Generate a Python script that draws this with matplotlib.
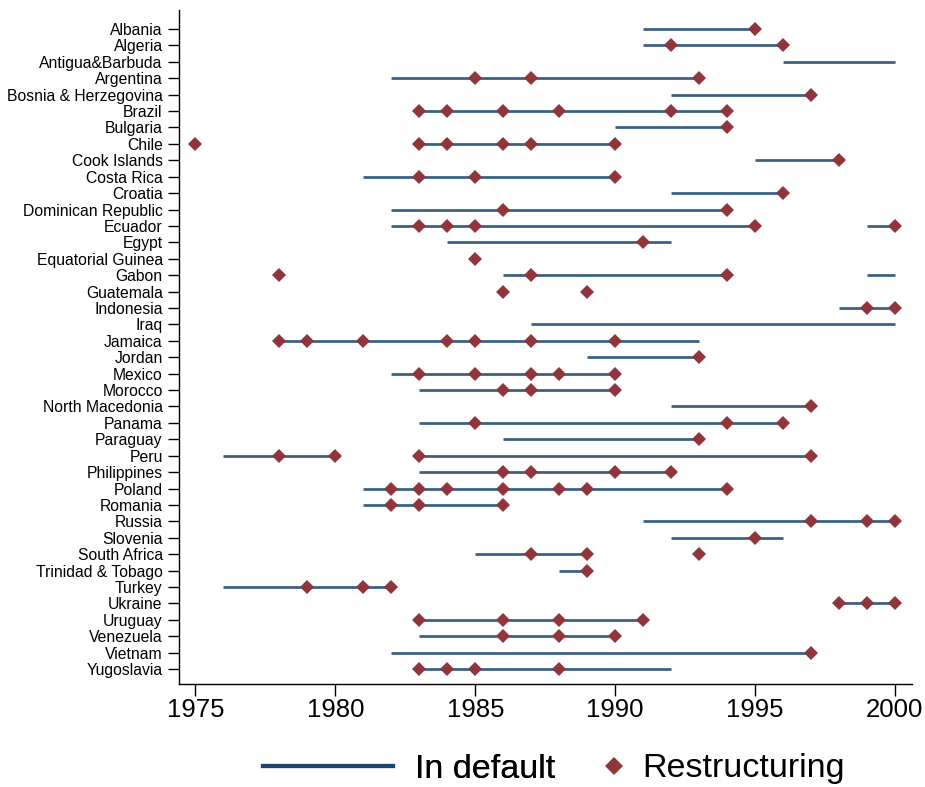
import matplotlib.pyplot as plt
from matplotlib.lines import Line2D

plt.rcParams['font.family'] = ['Liberation Sans', 'DejaVu Sans']

# countries, top to bottom
countries = ['Albania', 'Algeria', 'Antigua&Barbuda', 'Argentina', 'Bosnia & Herzegovina',
             'Brazil', 'Bulgaria', 'Chile', 'Cook Islands', 'Costa Rica', 'Croatia',
             'Dominican Republic', 'Ecuador', 'Egypt', 'Equatorial Guinea', 'Gabon',
             'Guatemala', 'Indonesia', 'Iraq', 'Jamaica', 'Jordan', 'Mexico', 'Morocco',
             'North Macedonia', 'Panama', 'Paraguay', 'Peru', 'Philippines', 'Poland',
             'Romania', 'Russia', 'Slovenia', 'South Africa', 'Trinidad & Tobago', 'Turkey',
             'Ukraine', 'Uruguay', 'Venezuela', 'Vietnam', 'Yugoslavia']

# default spells (start year, end year)
default_spells = [
    [(1991, 1995)], [(1991, 1996)], [(1996, 2000)], [(1982, 1993)], [(1992, 1997)],
    [(1983, 1994)], [(1990, 1994)], [(1983, 1990)], [(1995, 1998)], [(1981, 1990)],
    [(1992, 1996)], [(1982, 1994)], [(1982, 1995), (1999, 2000)], [(1984, 1992)], [],
    [(1986, 1994), (1999, 2000)], [], [(1998, 2000)], [(1987, 2000)], [(1978, 1993)],
    [(1989, 1993)], [(1982, 1990)], [(1983, 1990)], [(1992, 1997)], [(1983, 1996)],
    [(1986, 1993)], [(1976, 1980), (1983, 1997)], [(1983, 1992)], [(1981, 1994)],
    [(1981, 1986)], [(1991, 2000)], [(1992, 1996)], [(1985, 1989)], [(1988, 1989)],
    [(1976, 1982)], [(1998, 2000)], [(1983, 1991)], [(1983, 1990)], [(1982, 1997)],
    [(1983, 1992)],
]

# restructuring years
restructurings = [
    [1995], [1992, 1996], [], [1985, 1987, 1993], [1997],
    [1983, 1984, 1986, 1988, 1992, 1994], [1994], [1975, 1983, 1984, 1986, 1987, 1990],
    [1998], [1983, 1985, 1990], [1996], [1986, 1994], [1983, 1984, 1985, 1995, 2000],
    [1991], [1985], [1978, 1987, 1994], [1986, 1989], [1999, 2000], [],
    [1978, 1979, 1981, 1984, 1985, 1987, 1990], [1993], [1983, 1985, 1987, 1988, 1990],
    [1986, 1987, 1990], [1997], [1985, 1994, 1996], [1993], [1978, 1980, 1983, 1997],
    [1986, 1987, 1990, 1992], [1982, 1983, 1984, 1986, 1988, 1989, 1994],
    [1982, 1983, 1986], [1997, 1999, 2000], [1995], [1987, 1989, 1993], [1989],
    [1979, 1981, 1982], [1998, 1999, 2000], [1983, 1986, 1988, 1991],
    [1986, 1988, 1990], [1997], [1983, 1984, 1985, 1988],
]

navy = '#1a476f'
maroon = '#90353b'

fig = plt.figure(figsize=(9.25, 7.87), dpi=100)
ax = fig.add_axes([0.1932, 0.1305, 0.7924, 0.8568])

for i, spells in enumerate(default_spells):
    for s, e in spells:
        ax.hlines(i, s, e, color=navy, lw=2.0, alpha=0.85, zorder=2)

for i, years in enumerate(restructurings):
    if years:
        ax.plot(years, [i] * len(years), 'D', color=maroon, ms=7.2,
                markeredgewidth=0, zorder=3)

ax.set_yticks(range(len(countries)))
ax.set_yticklabels(countries, fontsize=11.3)
ax.set_ylim(39.93, -1.16)
ax.set_xlim(1974.4, 2000.6)
ax.set_xticks([1975, 1980, 1985, 1990, 1995, 2000])
ax.tick_params(axis='x', labelsize=18.5, length=8.6, width=1.0, pad=1.5)
ax.tick_params(axis='y', length=7.9, width=1.0, pad=3.6)
for side in ['top', 'right']:
    ax.spines[side].set_visible(False)
for side in ['left', 'bottom']:
    ax.spines[side].set_linewidth(1.0)

# legend, two pieces so the handles can differ in width
h1 = Line2D([], [], color=navy, lw=3)
h2 = Line2D([], [], color=maroon, marker='D', ms=9, ls='none', markeredgewidth=0)
leg1 = fig.legend([h1], ['In default'], loc='center left', bbox_to_anchor=(262.7 / 925, 1 - 769 / 787),
                  frameon=False, fontsize=24.5, handlelength=3.82, handletextpad=0.67,
                  borderpad=0, borderaxespad=0)
leg2 = fig.legend([h2], ['Restructuring'], loc='center left', bbox_to_anchor=(600.5 / 925, 1 - 769 / 787),
                  frameon=False, fontsize=24.5, handlelength=0.8, handletextpad=0.42,
                  borderpad=0, borderaxespad=0)
fig.add_artist(leg1)

fig.savefig('out.png', dpi=100)
